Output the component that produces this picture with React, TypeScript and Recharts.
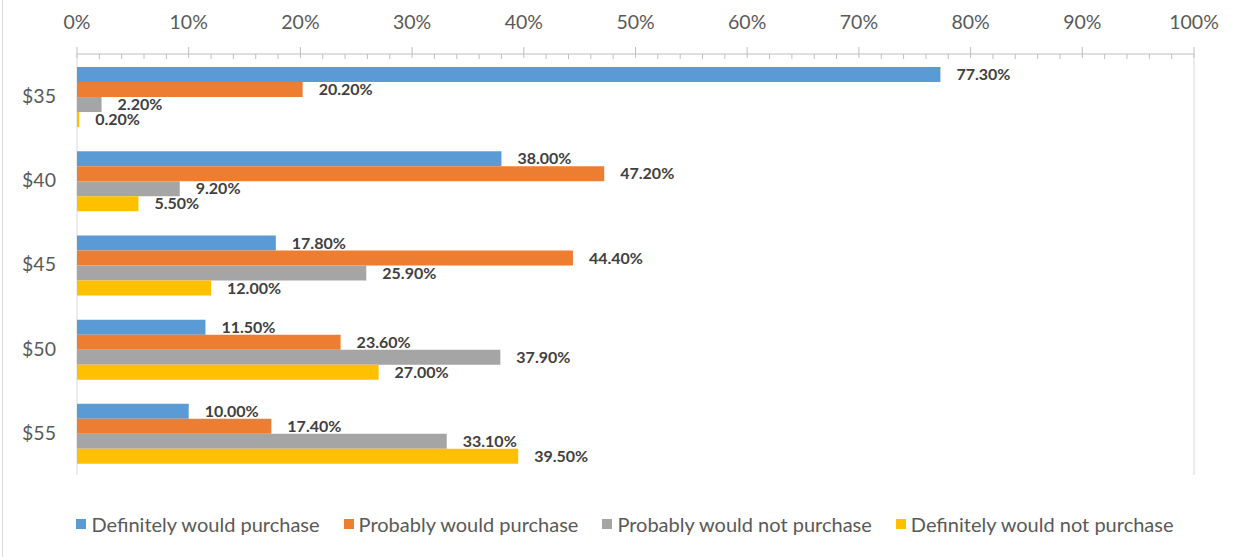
import { Bar, BarChart, CartesianGrid, LabelList, XAxis, YAxis } from 'recharts';

// price points, top to bottom
const categories = ['$35', '$40', '$45', '$50', '$55'];

// share of respondents, in percent
const definitelyWould = [77.3, 38.0, 17.8, 11.5, 10.0];
const probablyWould = [20.2, 47.2, 44.4, 23.6, 17.4];
const probablyNot = [2.2, 9.2, 25.9, 37.9, 33.1];
const definitelyNot = [0.2, 5.5, 12.0, 27.0, 39.5];

const seriesNames = [
  'Definitely would purchase',
  'Probably would purchase',
  'Probably would not purchase',
  'Definitely would not purchase',
];
const seriesKeys = ['dw', 'pw', 'pn', 'dn'];
const seriesColors = ['#5B9BD5', '#ED7D31', '#A5A5A5', '#FFC000'];

const majorTicks = [0, 10, 20, 30, 40, 50, 60, 70, 80, 90, 100];
const minorTicks = Array.from({ length: 51 }, (_, i) => i * 2);

const W = 1245;
const H = 557;
const FONT = 'Lato, "Open Sans", "Liberation Sans", sans-serif';

const rows = categories.map((c, i) => ({
  price: c,
  dw: definitelyWould[i],
  pw: probablyWould[i],
  pn: probablyNot[i],
  dn: definitelyNot[i],
}));

const pct = (v: unknown) => `${Number(v).toFixed(2)}%`;

// top axis: major ticks stick up with a label, minor ticks hang down into the plot
function TopTick(props: any) {
  const { x, y, payload } = props;
  const v = Number(payload.value);
  if (v % 10 === 0) {
    return (
      <g>
        <line x1={x} x2={x} y1={y - 7} y2={y + 4} stroke="#bfbfbf" />
        <text x={x} y={y - 30} textAnchor="middle" dominantBaseline="middle" fontSize={19.5} fill="#595959">
          {`${v}%`}
        </text>
      </g>
    );
  }
  return <line x1={x} x2={x} y1={y} y2={y + 5} stroke="#bfbfbf" />;
}

export default function App() {
  return (
    <div
      style={{
        position: 'absolute',
        left: 0,
        top: 0,
        width: W,
        height: H,
        background: '#fff',
        fontFamily: FONT,
        boxSizing: 'border-box',
        borderLeft: '1px solid #d9d9d9',
        marginLeft: 2,
      }}
    >
      <BarChart
        width={W - 3}
        height={H}
        data={rows}
        layout="vertical"
        margin={{ top: 24, right: 51, bottom: 82, left: 0 }}
        barCategoryGap="15.5%"
        barGap={0}
      >
        <CartesianGrid xAxisId="grid" horizontal={false} stroke="#d9d9d9" />
        <XAxis
          type="number"
          orientation="top"
          domain={[0, 100]}
          ticks={minorTicks}
          interval={0}
          height={30}
          tickSize={0}
          tickMargin={0}
          tickLine={false}
          axisLine={{ stroke: '#bfbfbf' }}
          tick={<TopTick />}
        />
        <XAxis xAxisId="grid" type="number" domain={[0, 100]} ticks={majorTicks} hide />
        <YAxis
          type="category"
          dataKey="price"
          width={74}
          axisLine={false}
          tickLine={false}
          tickSize={0}
          tickMargin={21}
          tick={{ fontSize: 19.5, fill: '#595959' }}
        />
        {seriesKeys.map((k, i) => (
          <Bar key={k} dataKey={k} name={seriesNames[i]} fill={seriesColors[i]} isAnimationActive={false}>
            <LabelList
              dataKey={k}
              position="right"
              offset={16}
              formatter={pct}
              fill="#404040"
              fontSize={16}
              fontWeight={700}
            />
          </Bar>
        ))}
      </BarChart>
      <div
        style={{
          position: 'absolute',
          top: 511,
          left: 0,
          width: '100%',
          display: 'flex',
          justifyContent: 'center',
          gap: 24,
          fontSize: 20,
          color: '#595959',
          lineHeight: '26px',
        }}
      >
        {seriesNames.map((n, i) => (
          <div key={n} style={{ display: 'flex', alignItems: 'center' }}>
            <span style={{ width: 10, height: 10, background: seriesColors[i], marginRight: 5 }} />
            {n}
          </div>
        ))}
      </div>
    </div>
  );
}
